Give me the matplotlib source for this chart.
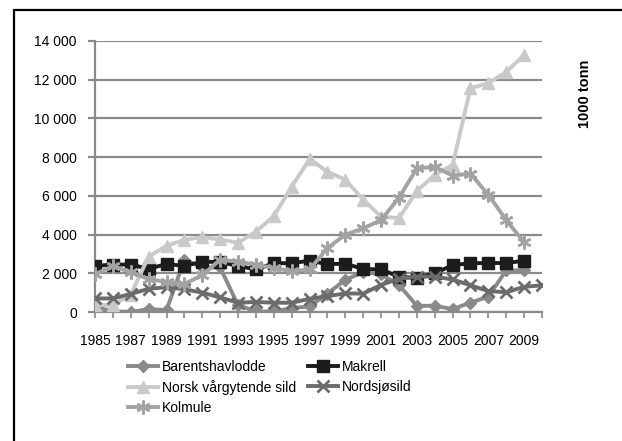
import numpy as np
import matplotlib.pyplot as plt
from matplotlib.patches import Rectangle

# ---------------------------------------------
# Bestand av pelagiske fiskeslag, 1985-2010
# ---------------------------------------------
years = list(range(1985, 2011))

barentshavlodde = [250, 50, 0, 150, 100, 2700, 2300, 2300, 350, 30, 30, 200, 290,
                   950, 1670, 2050, 1950, 1400, 320, 320, 150, 480, 800, 2150, 2150]
makrell = [2380, 2450, 2450, 2230, 2480, 2380, 2600, 2580, 2380, 2200, 2520, 2520, 2650,
           2470, 2500, 2220, 2200, 1820, 1760, 2000, 2420, 2520, 2530, 2530, 2650]
norsk_sild = [370, 350, 900, 2860, 3420, 3730, 3870, 3750, 3580, 4150, 4950, 6470, 7900,
              7250, 6830, 5800, 4930, 4850, 6250, 7080, 7600, 11560, 11820, 12400, 13280]
nordsjosild = [700, 700, 930, 1200, 1280, 1180, 1000, 750, 480, 520, 480, 480, 680,
               820, 960, 950, 1400, 1720, 1830, 1830, 1680, 1380, 1080, 1020, 1300, 1380]
kolmule = [1950, 2380, 2050, 1700, 1550, 1450, 1900, 2700, 2600, 2450, 2280, 2100, 2200,
           3300, 4000, 4320, 4750, 5900, 7420, 7500, 7050, 7150, 6050, 4750, 3600]

yticks = np.arange(0, 14001, 2000)
ytick_labels = ["0", "2 000", "4 000", "6 000", "8 000", "10 000", "12 000", "14 000"]

plt.rcParams['font.family'] = ['Liberation Sans', 'DejaVu Sans']

fig = plt.figure(figsize=(6.22, 4.41), dpi=100)
ax = fig.add_axes([95 / 622, 1 - 312 / 441, 447 / 622, 271 / 441])

# ramme rundt hele figuren
fig.patches.append(Rectangle((14 / 622, -0.1), 1.1, 1 - 10 / 441 + 0.1,
                             transform=fig.transFigure, fill=False,
                             edgecolor='black', linewidth=1.6))

x = np.arange(len(years))
lw = 2.8

ax.plot(x[:len(barentshavlodde)], barentshavlodde, color='#8a8a8a', marker='D',
        markersize=6.5, linewidth=lw, label='Barentshavlodde', zorder=3)
ax.plot(x[:len(makrell)], makrell, color='#1c1c1c', marker='s',
        markersize=8, linewidth=lw, label='Makrell', zorder=4)
ax.plot(x[:len(norsk_sild)], norsk_sild, color='#c9c9c9', marker='^',
        markersize=8, linewidth=lw, label='Norsk vårgytende sild', zorder=5)
ax.plot(x[:len(nordsjosild)], nordsjosild, color='#6b6b6b', marker='x',
        markersize=8, markeredgewidth=2, linewidth=lw, label='Nordsjøsild', zorder=6)
ax.plot(x[:len(kolmule)], kolmule, color='#a3a3a3', marker=(6, 2, 0),
        markersize=10, markeredgewidth=1.8, linewidth=lw, label='Kolmule', zorder=7)

ax.set_xlim(0, len(years) - 1)
ax.set_ylim(0, 14000)
ax.set_yticks(yticks)
ax.set_yticklabels(ytick_labels, fontsize=10)
ax.set_xticks(x)
ax.set_xticklabels([str(y) if (y - 1985) % 2 == 0 else "" for y in years], fontsize=10)

ax.grid(axis='y', color='#8a8a8a', linewidth=1.6, zorder=0)
ax.set_axisbelow(True)
for side in ['top', 'right']:
    ax.spines[side].set_visible(False)
ax.spines['left'].set_color('#8a8a8a')
ax.spines['left'].set_linewidth(1.6)
ax.spines['bottom'].set_color('#8a8a8a')
ax.spines['bottom'].set_linewidth(1.6)
ax.tick_params(axis='y', color='#8a8a8a', width=1.6, length=5, pad=8)
ax.tick_params(axis='x', color='#8a8a8a', width=1.2, length=4, pad=12)
ax.patch.set_alpha(0)

fig.text(585 / 622, 1 - 94 / 441, '1000 tonn', rotation=90, fontsize=10.5,
         fontweight='bold', ha='center', va='center')

# legend: rader Barentshavlodde/Makrell, Norsk/Nordsjø, Kolmule
h, l = ax.get_legend_handles_labels()
order = [0, 2, 4, 1, 3]
fig.legend([h[i] for i in order], [l[i] for i in order], ncol=2,
           loc='upper left', bbox_to_anchor=(122 / 622, 1 - 354 / 441),
           frameon=False, fontsize=10, handlelength=2.2, handletextpad=0.3,
           columnspacing=0.8, labelspacing=0.45, borderaxespad=0)

plt.savefig('out.png', dpi=100)
